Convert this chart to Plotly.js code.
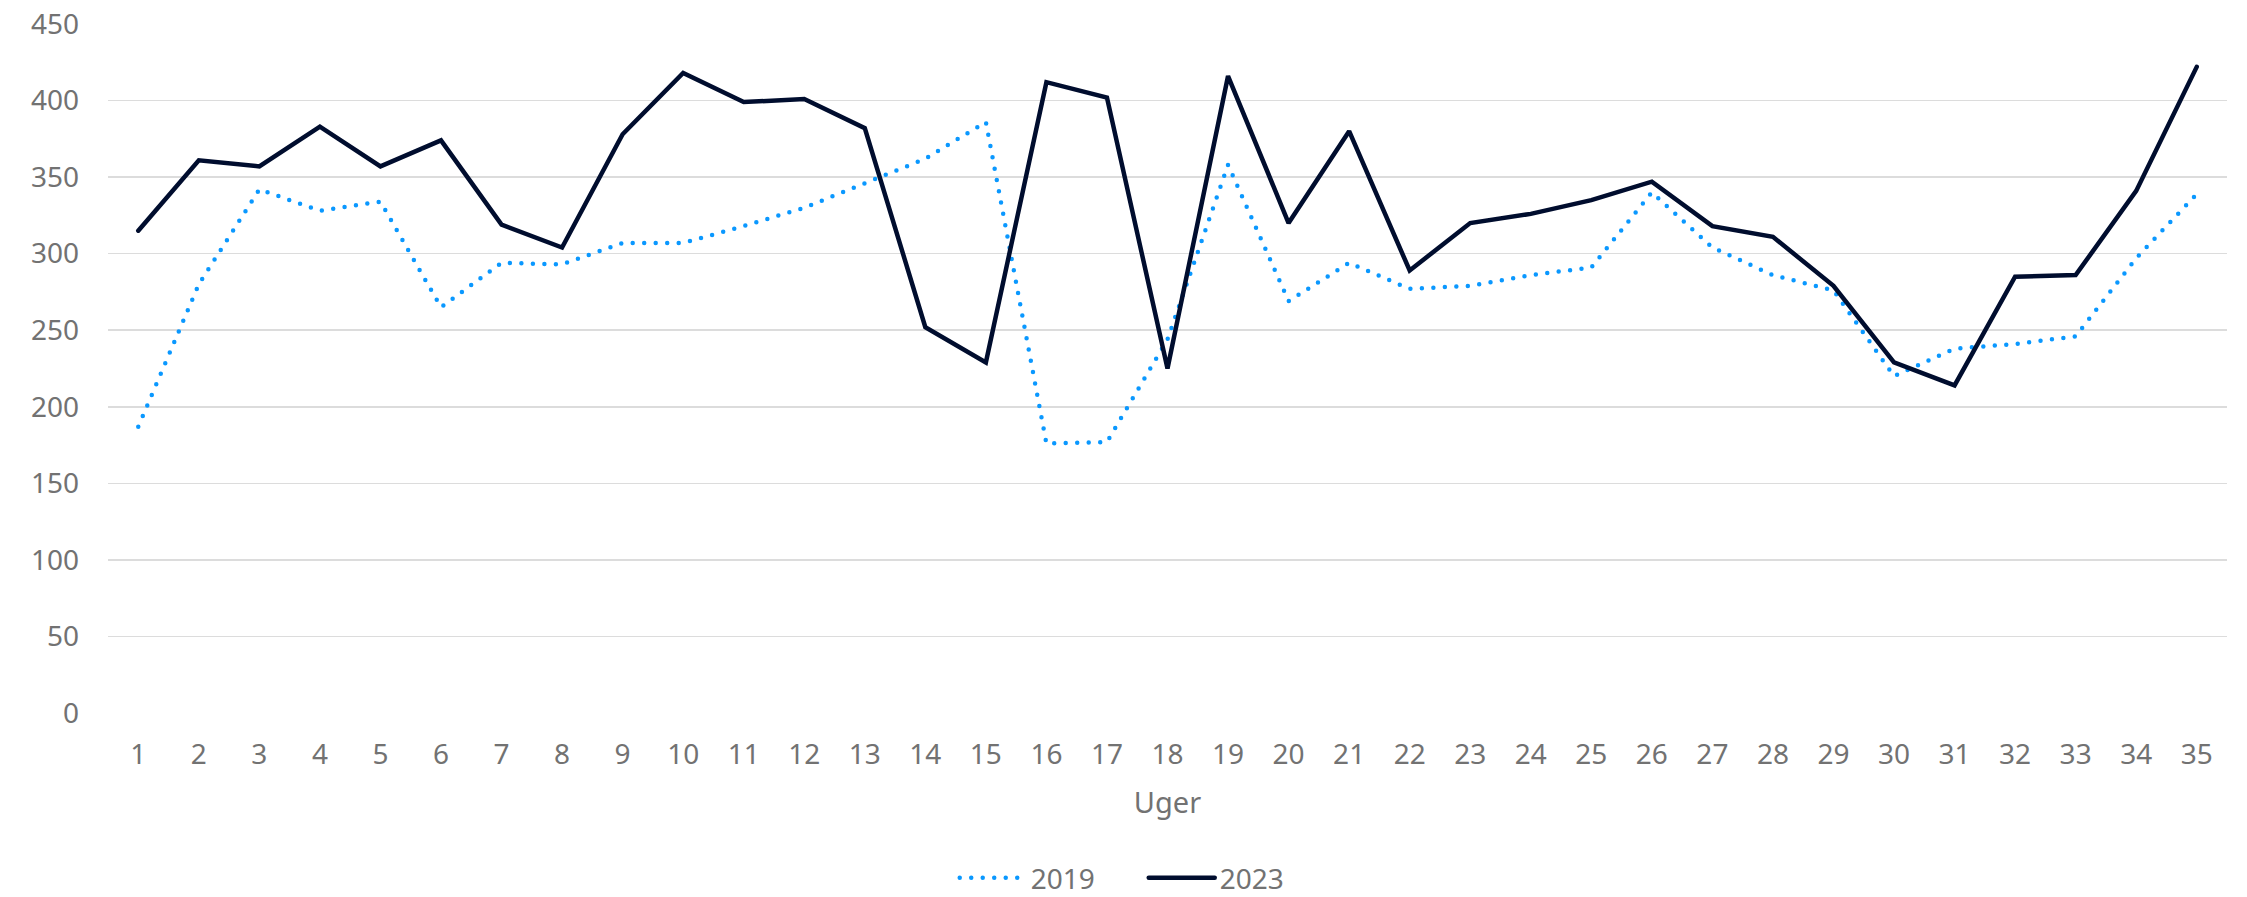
<!DOCTYPE html>
<html>
<head>
<meta charset="utf-8">
<script src="https://cdn.plot.ly/plotly-3.0.1.min.js"></script>
<style>
html,body{margin:0;padding:0;background:#fff;}
#chart{width:2247px;height:897px;}
.scatterlayer path.js-line, .legendlines path{stroke-linecap:round;}
</style>
</head>
<body>
<div id="chart"></div>
<script>
const weeks = Array.from({length:35},(_,i)=>String(i+1));
const series2019 = [187,280,342,328,334,265,294,293,307,307,318,330,346,362,386,176,177,244,358,269,294,277,279,286,291,340,304,286,276,220,238,241,246,297,339];
const series2023 = [315,361,357,383,357,374,319,304,378,418,399,401,382,252,229,412,402,225,416,320,380,289,320,326,335,347,318,311,279,229,214,285,286,341,422];
const yTicks = [0,50,100,150,200,250,300,350,400,450];

const fontFam = '"Noto Sans", sans-serif';
const grey = '#727272';

const traces = [
  {x: weeks, y: series2019, name: '2019', type: 'scatter', mode: 'lines',
   line: {color: '#0a98ff', width: 4.5, dash: '0px,11.5px'}},
  {x: weeks, y: series2023, name: '2023', type: 'scatter', mode: 'lines',
   line: {color: '#000d2e', width: 4.5}}
];

const layout = {
  width: 2247, height: 897,
  margin: {l: 108, r: 20, t: 24, b: 184},
  paper_bgcolor: '#fff', plot_bgcolor: '#fff',
  font: {family: fontFam, size: 28, color: grey},
  showlegend: true,
  legend: {orientation: 'h', xref: 'container', x: 0.509, xanchor: 'center',
           yref: 'container', y: 0.021, yanchor: 'middle', itemwidth: 66,
           entrywidth: 108, entrywidthmode: 'pixels',
           font: {family: fontFam, size: 28, color: grey}, traceorder: 'normal'},
  xaxis: {type: 'category', range: [-0.5, 34.5], showgrid: false, zeroline: false, showline: false,
          ticks: '', ticklabelstandoff: 22, tickfont: {size: 28, color: grey},
          title: {text: 'Uger', font: {size: 29, color: grey}, standoff: 21}},
  yaxis: {range: [0, 450], tickvals: yTicks, showgrid: true, gridcolor: '#dcdcdc', gridwidth: 1.5,
          zeroline: false, showline: false, ticks: '', ticklabelstandoff: 28,
          tickfont: {size: 28, color: grey}}
};

Plotly.newPlot('chart', traces, layout, {displayModeBar: false, staticPlot: true});
</script>
</body>
</html>
